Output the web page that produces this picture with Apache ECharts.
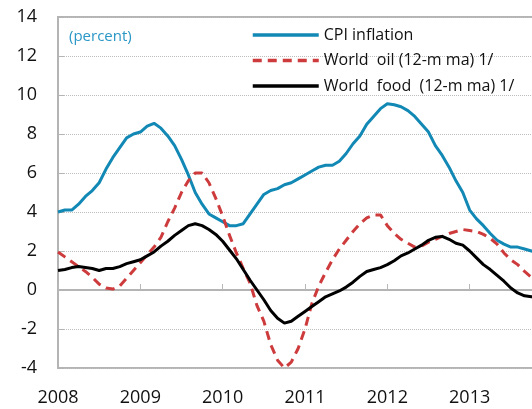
<!DOCTYPE html>
<html style="height: 100%">
<head>
<meta charset="utf-8">
<title>ECharts</title>
<script src="https://cdn.jsdelivr.net/npm/echarts@6/dist/echarts.min.js"></script>
</head>
<body style="height: 100%; margin: 0; background: #fff">
<div id="container" style="width: 532px; height: 409px"></div>
<script type="text/javascript">
// months from Jan 2008 to Jan 2014
var months = [];
for (var y = 2008; y <= 2013; y++) {
	for (var m = 1; m <= 12; m++) {
		months.push(y + '-' + (m < 10 ? '0' + m : m));
	}
}
months.push('2014-01');

var cpi = [4.0, 4.1, 4.1, 4.4, 4.8, 5.1, 5.5, 6.2, 6.8, 7.3, 7.8, 8.0,
	8.1, 8.4, 8.55, 8.3, 7.9, 7.4, 6.7, 5.9, 5.0, 4.4, 3.9, 3.7,
	3.5, 3.3, 3.3, 3.4, 3.9, 4.4, 4.9, 5.1, 5.2, 5.4, 5.5, 5.7,
	5.9, 6.1, 6.3, 6.4, 6.4, 6.6, 7.0, 7.5, 7.9, 8.5, 8.9, 9.3,
	9.55, 9.5, 9.4, 9.2, 8.9, 8.5, 8.1, 7.4, 6.9, 6.3, 5.6, 5.0,
	4.1, 3.65, 3.3, 2.9, 2.55, 2.35, 2.2, 2.2, 2.1, 2.0, 1.9];

var oil = [1.95, 1.7, 1.45, 1.2, 0.95, 0.65, 0.3, 0.1, 0.05, 0.2, 0.6, 1.0,
	1.4, 1.8, 2.2, 2.7, 3.5, 4.2, 5.0, 5.6, 6.0, 6.0, 5.5, 4.7,
	3.8, 2.8, 1.9, 1.1, 0.35, -0.8, -1.6, -2.8, -3.6, -4.0, -3.7, -3.0,
	-2.0, -0.7, 0.2, 0.9, 1.55, 2.1, 2.55, 3.0, 3.4, 3.7, 3.85, 3.85,
	3.3, 2.9, 2.6, 2.4, 2.2, 2.25, 2.45, 2.6, 2.75, 2.9, 3.0, 3.1,
	3.05, 3.0, 2.85, 2.65, 2.35, 1.9, 1.55, 1.3, 0.95, 0.65, 0.4];

var food = [1.0, 1.05, 1.15, 1.2, 1.15, 1.1, 1.0, 1.1, 1.1, 1.2, 1.35, 1.45,
	1.55, 1.75, 1.95, 2.25, 2.5, 2.8, 3.05, 3.3, 3.4, 3.3, 3.1, 2.85,
	2.5, 2.05, 1.6, 1.05, 0.5, 0.0, -0.5, -1.05, -1.45, -1.7, -1.6, -1.35,
	-1.1, -0.85, -0.6, -0.35, -0.2, -0.05, 0.15, 0.4, 0.7, 0.95, 1.05, 1.15,
	1.3, 1.5, 1.75, 1.9, 2.1, 2.3, 2.55, 2.7, 2.75, 2.6, 2.4, 2.3,
	2.0, 1.65, 1.3, 1.05, 0.75, 0.45, 0.1, -0.15, -0.3, -0.35, -0.35];

var seriesNames = ['CPI inflation', 'World  oil (12-m ma) 1/', 'World  food  (12-m ma) 1/'];

var myChart = echarts.init(document.getElementById('container'));

var gray = '#b4b4b4';
var font = '"Open Sans", "DejaVu Sans", sans-serif';

var option = {
	animation : false,
	title : {
		text : '(percent)',
		left : 64,
		top : 24,
		textStyle : {
			color : '#2a97c6',
			fontSize : 15,
			fontWeight : 'normal',
			fontFamily : font
		}
	},
	legend : {
		orient : 'vertical',
		left : 251,
		top : 27,
		padding : 0,
		itemWidth : 66,
		itemHeight : 16,
		itemGap : 9.5,
		itemStyle : { opacity : 0 },
		lineStyle : { width : 3.5 },
		data : seriesNames,
		textStyle : {
			fontSize : 16,
			lineHeight : 16,
			color : '#111',
			fontFamily : font
		}
	},
	grid : {
		left : 58,
		width : 494,
		top : 17,
		bottom : 41,
		outerBoundsMode : 'none',
		containLabel : false,
		show : true,
		borderColor : gray,
		borderWidth : 2
	},
	xAxis : [ {
		// bottom axis: year labels only
		type : 'category',
		data : months,
		boundaryGap : false,
		position : 'bottom',
		axisLine : { show : false, onZero : false },
		axisTick : { show : false },
		axisLabel : {
			interval : 11,
			margin : 21,
			fontSize : 18,
			color : '#111',
			fontFamily : font,
			formatter : function (v) { return v.slice(0, 4); }
		},
		splitLine : { show : false }
	}, {
		// line at zero with year ticks
		type : 'category',
		data : months,
		boundaryGap : false,
		position : 'bottom',
		axisLine : {
			onZero : true,
			lineStyle : { color : gray, width : 2 }
		},
		axisTick : {
			show : true,
			inside : true,
			length : 6,
			interval : 11,
			lineStyle : { color : '#b8b8b8', width : 1 }
		},
		axisLabel : { show : false, interval : 11 },
		splitLine : { show : false }
	} ],
	yAxis : {
		type : 'value',
		min : -4,
		max : 14,
		interval : 2,
		axisLine : {
			show : true,
			lineStyle : { color : gray, width : 2 }
		},
		axisTick : {
			show : true,
			inside : true,
			length : 6,
			lineStyle : { color : gray }
		},
		axisLabel : {
			margin : 21,
			fontSize : 18,
			color : '#111',
			fontFamily : font
		},
		splitLine : {
			lineStyle : { color : '#bdbdbd', type : 'dotted', width : 1 }
		}
	},
	series : [ {
		name : seriesNames[0],
		type : 'line',
		data : cpi,
		symbol : 'none',
		lineStyle : { color : '#1288b5', width : 3 },
		itemStyle : { color : '#1288b5' }
	}, {
		name : seriesNames[1],
		type : 'line',
		data : oil,
		symbol : 'none',
		lineStyle : { color : '#cd3b3c', width : 3, type : [9, 6] },
		itemStyle : { color : '#cd3b3c' }
	}, {
		name : seriesNames[2],
		type : 'line',
		data : food,
		symbol : 'none',
		lineStyle : { color : '#000', width : 3 },
		itemStyle : { color : '#000' }
	} ]
};

myChart.setOption(option);
</script>
</body>
</html>
